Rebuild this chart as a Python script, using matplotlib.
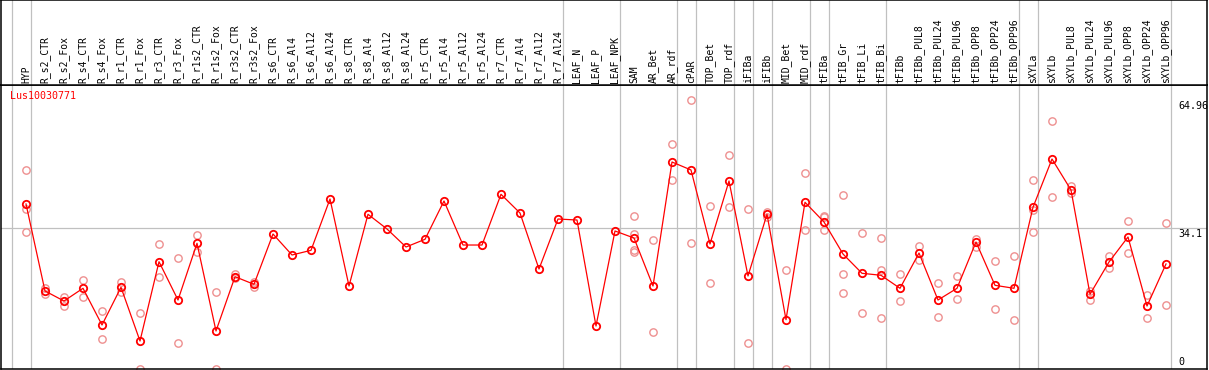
import matplotlib
matplotlib.use("Agg")
import matplotlib.pyplot as plt

# sample columns, left to right
samples = ["HYP", "R_s2_CTR", "R_s2_Fox", "R_s4_CTR", "R_s4_Fox", "R_r1_CTR", "R_r1_Fox",
           "R_r3_CTR", "R_r3_Fox", "R_r1s2_CTR", "R_r1s2_Fox", "R_r3s2_CTR", "R_r3s2_Fox",
           "R_s6_CTR", "R_s6_Al4", "R_s6_Al12", "R_s6_Al24", "R_s8_CTR", "R_s8_Al4",
           "R_s8_Al12", "R_s8_Al24", "R_r5_CTR", "R_r5_Al4", "R_r5_Al12", "R_r5_Al24",
           "R_r7_CTR", "R_r7_Al4", "R_r7_Al12", "R_r7_Al24", "LEAF_N", "LEAF_P", "LEAF_NPK",
           "SAM", "AR_Bet", "AR_rdf", "cPAR", "TOP_Bet", "TOP_rdf", "iFIBa", "iFIBb",
           "MID_Bet", "MID_rdf", "tFIBa", "tFIB_Gr", "tFIB_Li", "tFIB_Bi", "tFIBb",
           "tFIBb_PUL8", "tFIBb_PUL24", "tFIBb_PUL96", "tFIBb_OPP8", "tFIBb_OPP24",
           "tFIBb_OPP96", "sXYLa", "sXYLb", "sXYLb_PUL8", "sXYLb_PUL24", "sXYLb_PUL96",
           "sXYLb_OPP8", "sXYLb_OPP24", "sXYLb_OPP96"]

# mean expression per sample
mean_values = [39.85, 18.84, 16.42, 19.49, 10.63, 19.73, 6.76, 25.91, 16.66, 30.36, 9.18,
               22.29, 20.45, 32.60, 27.53, 28.66, 41.05, 20.04, 37.36, 33.81, 29.46, 31.32,
               40.57, 29.94, 29.94, 42.19, 37.67, 24.15, 36.22, 35.98, 10.38, 33.33, 31.63,
               20.04, 49.99, 48.06, 30.19, 45.40, 22.46, 37.36, 11.91, 40.26, 35.50, 27.77,
               23.11, 22.63, 19.49, 28.01, 16.66, 19.49, 30.67, 20.21, 19.49, 39.05, 50.71,
               43.23, 18.04, 25.84, 31.88, 15.21, 25.36]

# individual replicates (empty where only one value)
rep_values = [[47.98, 38.57, 33.01], [19.56, 18.04], [17.46, 15.21], [21.49, 17.31],
              [14.01, 7.24], [21.08, 18.52], [13.45, 0.0], [30.11, 22.14], [26.73, 6.21],
              [32.36, 28.33], [18.52, 0.0], [22.87, 21.90], [21.08, 19.87],
              [], [], [], [], [], [], [], [], [], [], [], [], [], [], [], [], [], [], [],
              [36.95, 32.53, 28.74, 28.33], [31.08, 8.86], [54.33, 45.57], [64.96, 30.36],
              [39.36, 20.77], [51.68, 39.05], [38.64, 6.21], [38.0, 36.7], [23.91, 0.0],
              [47.26, 33.49], [37.02, 36.63, 33.49], [41.95, 22.94, 18.35], [32.84, 13.45],
              [31.63, 23.91, 12.32], [22.94, 16.42], [29.70, 26.25], [20.77, 12.56],
              [22.39, 16.90], [31.47, 29.53], [26.01, 14.49], [27.29, 11.83],
              [45.64, 38.40, 33.01], [59.82, 41.54], [44.19, 42.43], [18.91, 16.74],
              [27.29, 24.32], [35.67, 28.01], [17.80, 12.32], [35.18, 15.46]]

# index of last sample in each group
group_ends = [-1, 0, 28, 31, 34, 35, 37, 38, 39, 41, 42, 45, 52, 53, 60]
y_ticks = [64.96, 34.1, 0]
gene = "Lus10030771"

W, H = 1209, 370
font = "DejaVu Sans Mono"
grey = "#c0c0c0"

fig = plt.figure(figsize=(W / 100, H / 100), dpi=100)

# pixel layout: columns at 26 + 19*i, frame 1..1207, header 0..85, plot 85..369
x0 = (1 - 26) / 19
x1 = (1207 - 26) / 19
top_val = (369 - 85) / 4.141

ax = fig.add_axes([1 / W, 1 / H, 1206 / W, 284 / H])
hd = fig.add_axes([1 / W, 285 / H, 1206 / W, 85 / H])

for a in (ax, hd):
    a.set_xlim(x0, x1)
    a.set_xticks([])
    a.set_yticks([])
    for s in a.spines.values():
        s.set_color("black")
        s.set_linewidth(1.1)
    for k in group_ends:
        a.axvline(k + 0.24, color=grey, lw=0.9, zorder=1)

hd.set_ylim(0, 1)
for i, name in enumerate(samples):
    hd.text(i, 0.02, name, rotation=90, ha="center", va="bottom",
            family=font, fontsize=7.0, color="black")

ax.set_ylim(0, top_val)
ax.axhline(34.1, color=grey, lw=0.9, zorder=1)

xs = list(range(len(samples)))
for i, reps in enumerate(rep_values):
    if reps:
        ax.plot([i] * len(reps), reps, ls="none", marker="o", ms=5.3, mfc="none",
                mec="#ee9090", mew=1.0, zorder=2, clip_on=True)

ax.plot(xs, mean_values, color="red", lw=0.9, marker="o", ms=5.3, mfc="none",
        mec="red", mew=1.3, zorder=3)

ax.text(9 / 1206, 1 - 6 / 284, gene, transform=ax.transAxes, ha="left", va="top",
        family=font, fontsize=7.2, color="red")

lab_x = (1178 - 26) / 19
for v in y_ticks:
    if v == 0:
        ax.text(lab_x, v + 0.5, "0", ha="left", va="bottom", family=font, fontsize=7.2)
    else:
        ax.text(lab_x, v - 0.3, str(v), ha="left", va="top", family=font, fontsize=7.2)

fig.savefig("out.png", dpi=100, facecolor="white")
